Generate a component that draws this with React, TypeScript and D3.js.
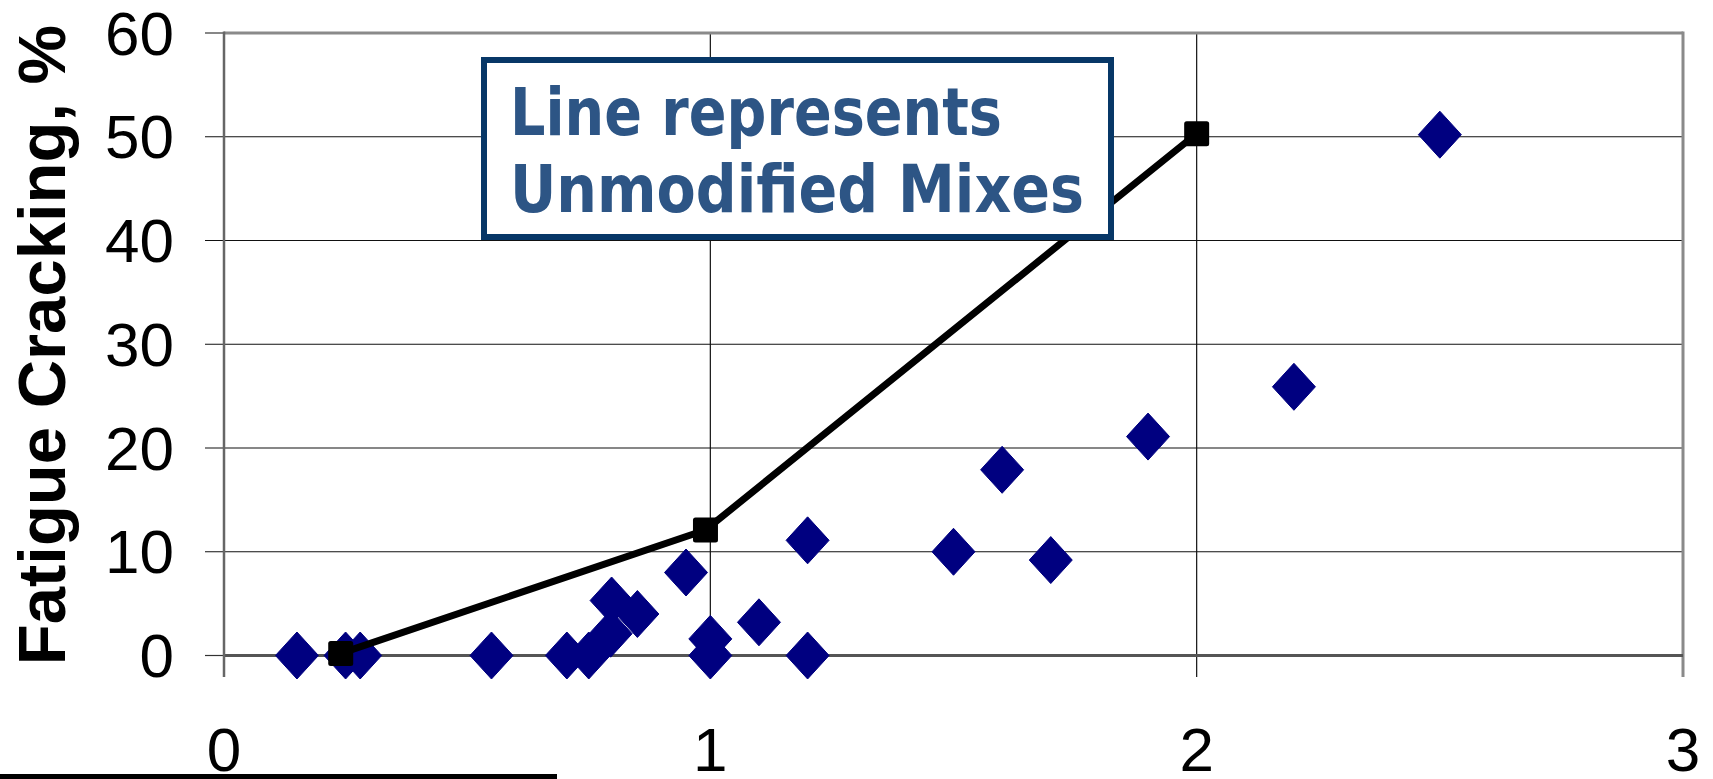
import React from "react";
import * as d3 from "d3";

const xTicks = [0, 1, 2, 3];
const yTicks = [0, 10, 20, 30, 40, 50, 60];

// Scatter (modified mixes) — diamonds
const diamondX = [0.15, 0.25, 0.28, 0.55, 0.705, 0.75, 0.795, 0.797, 0.85, 0.95, 1.0, 1.0, 1.1, 1.2, 1.2, 1.5, 1.6, 1.7, 1.9, 2.2, 2.5];
const diamondY = [0, 0, 0, 0, 0, 0, 2.1, 5.3, 4.0, 8.0, 1.6, 0, 3.2, 11.1, 0, 10.0, 17.9, 9.2, 21.1, 25.9, 50.2];

// Line (unmodified mixes) — squares
const lineX = [0.24, 0.99, 2.0];
const lineY = [0.2, 12.1, 50.3];

const yTitle = "Fatigue Cracking, %";
const boxLines = ["Line represents", "Unmodified Mixes"];

export default function App() {
  const W = 1713, H = 779;
  const left = 224, right = 1683, top = 33, bottom = 655.5;
  const x = d3.scaleLinear().domain([0, 3]).range([left, right]);
  const y = d3.scaleLinear().domain([0, 60]).range([bottom, top]);
  const line = d3.line<number>().x((_, i) => x(lineX[i])).y((_, i) => y(lineY[i]));
  const dw = 21.5, dh = 23.5;
  const diamond = `M0,${-dh}L${dw},0L0,${dh}L${-dw},0Z`;
  const font = "'Liberation Sans', Arial, sans-serif";
  const sq = 25;
  return (
    <svg width={W} height={H} style={{ position: "absolute", left: 0, top: 0, display: "block", background: "#fff" }}>
      <rect x={0} y={0} width={W} height={H} fill="#fff" />
      {/* horizontal gridlines + ticks */}
      {yTicks.filter(t => t !== 0).map(t => (
        <line key={"gy" + t} x1={205} x2={right} y1={y(t)} y2={y(t)} stroke="#111" strokeWidth={1.2} />
      ))}
      {/* vertical gridlines + ticks */}
      {xTicks.filter(t => t !== 0 && t !== 3).map(t => (
        <line key={"gx" + t} x1={x(t)} x2={x(t)} y1={top} y2={677} stroke="#111" strokeWidth={1.2} />
      ))}
      {/* frame */}
      <line x1={left} x2={right} y1={top} y2={top} stroke="#8a8a8a" strokeWidth={3} />
      <line x1={right} x2={right} y1={top - 1.5} y2={677} stroke="#8a8a8a" strokeWidth={3} />
      <line x1={205} x2={left} y1={bottom} y2={bottom} stroke="#333" strokeWidth={1.2} />
      <line x1={left} x2={right} y1={bottom} y2={bottom} stroke="#555" strokeWidth={3} />
      <line x1={left} x2={left} y1={top - 1.5} y2={677} stroke="#666" strokeWidth={2.5} />
      {/* y tick labels */}
      {yTicks.map(t => (
        <text key={"yl" + t} x={174} y={y(t)} dy="0.35em" textAnchor="end" fontFamily={font} fontSize={62} fill="#000">{t}</text>
      ))}
      {/* x tick labels */}
      {xTicks.map(t => (
        <text key={"xl" + t} x={x(t)} y={771} textAnchor="middle" fontFamily={font} fontSize={62} fill="#000">{t}</text>
      ))}
      {/* y title */}
      <text transform={`translate(65,345) rotate(-90)`} textAnchor="middle" fontFamily={font} fontWeight="bold" fontSize={67} fill="#000">{yTitle}</text>
      {/* diamonds */}
      {diamondX.map((dx, i) => (
        <path key={"d" + i} d={diamond} transform={`translate(${x(dx)},${y(diamondY[i])})`} fill="#000080" stroke="#000080" strokeWidth={1} strokeLinejoin="round" />
      ))}
      {/* line */}
      <path d={line(lineX) || ""} fill="none" stroke="#000" strokeWidth={7} strokeLinejoin="round" />
      {lineX.map((lx, i) => (
        <rect key={"s" + i} x={x(lx) - sq / 2} y={y(lineY[i]) - sq / 2} width={sq} height={sq} rx={2.5} fill="#000" />
      ))}
      {/* text box */}
      <rect x={484} y={60} width={627} height={177} fill="#fff" stroke="#073767" strokeWidth={6} />
      <text x={510} y={135} fontFamily="'DejaVu Sans', Verdana, sans-serif" fontWeight="bold" fontSize={65} fill="#2d5585" textLength={492} lengthAdjust="spacingAndGlyphs">{boxLines[0]}</text>
      <text x={510} y={212} fontFamily="'DejaVu Sans', Verdana, sans-serif" fontWeight="bold" fontSize={65} fill="#2d5585" textLength={574} lengthAdjust="spacingAndGlyphs">{boxLines[1]}</text>
      {/* bottom-left bar */}
      <rect x={0} y={774} width={557} height={5} fill="#000" />
    </svg>
  );
}
